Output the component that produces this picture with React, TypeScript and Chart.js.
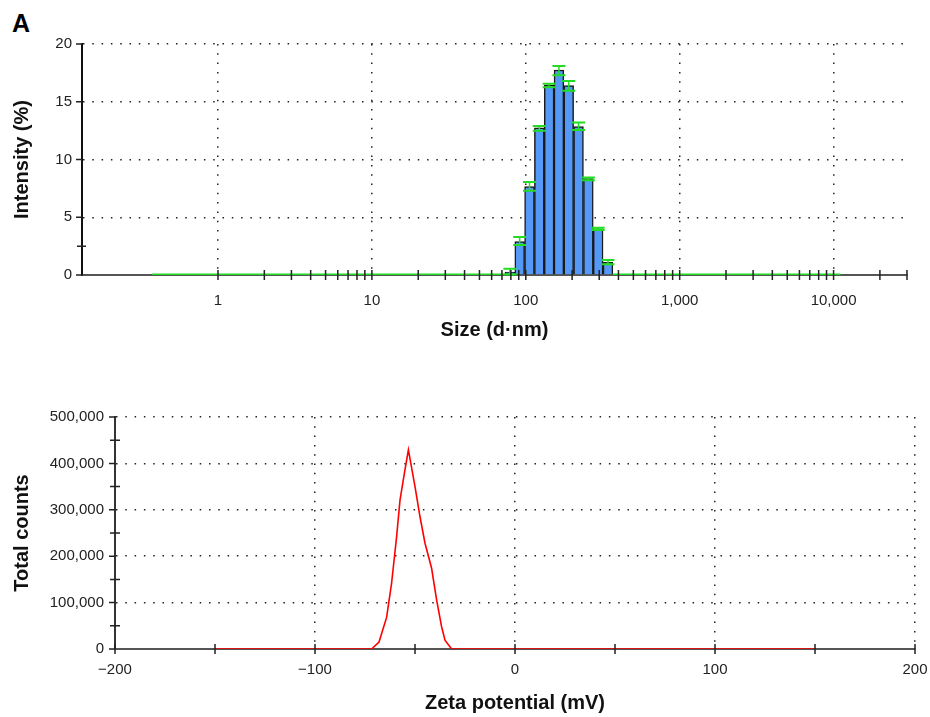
import React, { useEffect, useRef } from 'react';
import { Chart, registerables } from 'chart.js';

Chart.register(...registerables);

const FONT = "'Liberation Sans', Arial, Helvetica, sans-serif";
const GREEN = '#22dd22';
const BAR_BLUE = '#5599f8';
const GRID = '#222222';
const CLEAR = 'rgba(0,0,0,0)';

// ---- Panel 1: size distribution by intensity ----
const sizeBins = [78.82, 91.28, 105.7, 122.4, 141.8, 164.2, 190.1, 220.2, 255.0, 295.3, 342.0];
const intensity = [0.25, 2.9, 7.65, 12.75, 16.45, 17.75, 16.4, 12.85, 8.35, 4.0, 1.1];
const intensityLow = [0.05, 2.6, 7.3, 12.5, 16.25, 17.3, 15.95, 12.55, 8.2, 3.9, 0.93];
const intensityHigh = [0.55, 3.3, 8.05, 12.9, 16.55, 18.1, 16.8, 13.2, 8.45, 4.1, 1.3];
const zeroBandStart = [0.372, 367];
const zeroBandEnd = [87, 11100];
const sizeLabelTicks = [1, 10, 100, 1000, 10000];
const sizeTickMarks = [
  1, 2, 3, 4, 5, 6, 7, 8, 9,
  10, 20, 30, 40, 50, 60, 70, 80, 90,
  100, 200, 300, 400, 500, 600, 700, 800, 900,
  1000, 2000, 3000, 4000, 5000, 6000, 7000, 8000, 9000,
  10000, 20000, 30000,
];
const intensityTicks = [0, 5, 10, 15, 20];
const intensityMinorTicks = [2.5];

// ---- Panel 2: zeta potential distribution ----
const zetaPotential = [-150, -71.7, -68.0, -64.2, -61.7, -59.2, -57.5, -55.3, -53.3, -50.0, -47.5, -45.0, -41.7, -39.2, -36.7, -35.0, -31.7, 150];
const totalCounts = [0, 0, 15000, 68000, 142000, 242000, 321000, 379000, 429000, 350000, 285000, 228000, 174000, 106000, 48000, 19000, 0, 0];
const zetaLabelTicks = [-200, -100, 0, 100, 200];
const zetaTickMarks = [-200, -150, -100, -50, 0, 50, 100, 150, 200];
const countTicks = [0, 100000, 200000, 300000, 400000, 500000];
const countMinorTicks = [50000, 150000, 250000, 350000, 450000];

type MarkSpec = [number[], number, number];

function tickMarkPlugin(xMarks: MarkSpec[], yMarks: MarkSpec[]) {
  return {
    id: 'tickMarks',
    afterDraw(chart: any) {
      const { ctx, chartArea } = chart;
      const xs = chart.scales.x;
      const ys = chart.scales.y;
      ctx.save();
      ctx.strokeStyle = '#222';
      ctx.lineWidth = 1.5;
      ctx.beginPath();
      const by = chartArea.bottom;
      const lx = chartArea.left;
      xMarks.forEach(([vals, up, down]) => {
        vals.forEach((v) => {
          const p = xs.getPixelForValue(v);
          ctx.moveTo(p, by - up);
          ctx.lineTo(p, by + down);
        });
      });
      yMarks.forEach(([vals, left, right]) => {
        vals.forEach((v) => {
          const p = ys.getPixelForValue(v);
          ctx.moveTo(lx - left, p);
          ctx.lineTo(lx + right, p);
        });
      });
      ctx.stroke();
      ctx.restore();
    },
  };
}

const errorBarPlugin = {
  id: 'errorBars',
  afterDatasetsDraw(chart: any) {
    const { ctx } = chart;
    const xs = chart.scales.x;
    const ys = chart.scales.y;
    ctx.save();
    ctx.strokeStyle = GREEN;
    sizeBins.forEach((s, i) => {
      const px = xs.getPixelForValue(s);
      const yl = ys.getPixelForValue(intensityLow[i]);
      const yh = ys.getPixelForValue(intensityHigh[i]);
      ctx.lineWidth = 1.5;
      ctx.beginPath();
      ctx.moveTo(px, yl);
      ctx.lineTo(px, yh);
      ctx.stroke();
      ctx.lineWidth = 2;
      ctx.beginPath();
      ctx.moveTo(px - 6.5, yl);
      ctx.lineTo(px + 6.5, yl);
      ctx.moveTo(px - 6.5, yh);
      ctx.lineTo(px + 6.5, yh);
      ctx.stroke();
    });
    ctx.restore();
  },
};

const tickFont = { family: FONT, size: 15 };
const titleFont = { family: FONT, size: 20, weight: 'bold' as const };
const DASH = [1.5, 7.8];

const fmtThousands = (v: any) => Number(v).toLocaleString('en-US');
const fmtSigned = (v: any) => {
  const n = Number(v);
  return n < 0 ? '\u2212' + Math.abs(n) : String(n);
};

const noSidePadding = (s: any) => {
  s.paddingLeft = 0;
  s.paddingRight = 0;
};

export default function App() {
  const topRef = useRef<HTMLCanvasElement>(null);
  const botRef = useRef<HTMLCanvasElement>(null);

  useEffect(() => {
    const top = new Chart(topRef.current as HTMLCanvasElement, {
      type: 'bar',
      data: {
        datasets: [
          {
            type: 'bar',
            data: sizeBins.map((s, i) => ({ x: s, y: intensity[i] })),
            backgroundColor: BAR_BLUE,
            borderColor: '#1a1a1a',
            borderWidth: 1.5,
            barPercentage: 1,
            categoryPercentage: 1,
            order: 2,
          } as any,
          ...zeroBandStart.map((s, i) => ({
            type: 'line',
            data: [
              { x: s, y: 0 },
              { x: zeroBandEnd[i], y: 0 },
            ],
            borderColor: GREEN,
            borderWidth: 3,
            pointRadius: 0,
            order: 1,
          } as any)),
        ],
      },
      options: {
        responsive: false,
        animation: false,
        devicePixelRatio: 1,
        layout: { padding: { left: 0, top: 44, right: 23, bottom: 0 } },
        plugins: { legend: { display: false }, tooltip: { enabled: false } },
        scales: {
          x: {
            type: 'logarithmic',
            min: 0.1307,
            max: 30000,
            offset: false,
            afterBuildTicks: (s: any) => {
              s.ticks = sizeLabelTicks.map((v) => ({ value: v }));
            },
            afterFit: (s: any) => {
              s.height = 75;
              noSidePadding(s);
            },
            grid: { color: GRID, lineWidth: 1.5, drawTicks: false, offset: false },
            border: { display: true, color: '#555', width: 2, dash: DASH },
            ticks: {
              padding: 17,
              color: '#222',
              font: tickFont,
              maxRotation: 0,
              autoSkip: false,
              callback: fmtThousands,
            },
            title: {
              display: true,
              text: 'Size (d\u00b7nm)',
              color: '#111',
              font: titleFont,
              padding: { top: 0, bottom: 8 },
            },
          } as any,
          y: {
            type: 'linear',
            min: 0,
            max: 20,
            afterBuildTicks: (s: any) => {
              s.ticks = intensityTicks.map((v) => ({ value: v }));
            },
            afterFit: (s: any) => {
              s.width = 82;
            },
            grid: {
              color: (c: any) => (c.tick && c.tick.value === 0 ? CLEAR : GRID),
              lineWidth: 1.5,
              drawTicks: false,
            },
            border: { display: true, color: '#111', width: 2, dash: DASH },
            ticks: { padding: 10, color: '#222', font: tickFont },
            title: {
              display: true,
              text: 'Intensity (%)',
              color: '#111',
              font: titleFont,
              padding: { top: 10, bottom: 0 },
            },
          } as any,
        },
      },
      plugins: [
        errorBarPlugin,
        tickMarkPlugin(
          [[sizeTickMarks, 5, 5]],
          [
            [intensityTicks, 6, 0],
            [intensityMinorTicks, 5, 4],
          ]
        ),
      ],
    } as any);

    const bottom = new Chart(botRef.current as HTMLCanvasElement, {
      type: 'line',
      data: {
        datasets: [
          {
            data: zetaPotential.map((z, i) => ({ x: z, y: totalCounts[i] })),
            borderColor: '#ff0000',
            borderWidth: 1.6,
            pointRadius: 0,
            tension: 0,
            fill: false,
          },
        ],
      },
      options: {
        responsive: false,
        animation: false,
        devicePixelRatio: 1,
        layout: { padding: { left: 0, top: 67, right: 15, bottom: 0 } },
        plugins: { legend: { display: false }, tooltip: { enabled: false } },
        scales: {
          x: {
            type: 'linear',
            min: -200,
            max: 200,
            offset: false,
            afterBuildTicks: (s: any) => {
              s.ticks = zetaLabelTicks.map((v) => ({ value: v }));
            },
            afterFit: (s: any) => {
              s.height = 68;
              noSidePadding(s);
            },
            grid: {
              color: (c: any) => (c.tick && c.tick.value === -200 ? CLEAR : GRID),
              lineWidth: 1.5,
              drawTicks: false,
              offset: false,
            },
            border: { display: true, color: '#555', width: 2, dash: DASH },
            ticks: {
              padding: 12,
              color: '#222',
              font: tickFont,
              maxRotation: 0,
              autoSkip: false,
              callback: fmtSigned,
            },
            title: {
              display: true,
              text: 'Zeta potential (mV)',
              color: '#111',
              font: titleFont,
              padding: { top: 0, bottom: 2 },
            },
          } as any,
          y: {
            type: 'linear',
            min: 0,
            max: 500000,
            afterBuildTicks: (s: any) => {
              s.ticks = countTicks.map((v) => ({ value: v }));
            },
            afterFit: (s: any) => {
              s.width = 115;
            },
            grid: {
              color: (c: any) => (c.tick && c.tick.value === 0 ? CLEAR : GRID),
              lineWidth: 1.5,
              drawTicks: false,
            },
            border: { display: true, color: '#333', width: 2, dash: DASH },
            ticks: { padding: 11, color: '#222', font: tickFont, callback: fmtThousands },
            title: {
              display: true,
              text: 'Total counts',
              color: '#111',
              font: titleFont,
              padding: { top: 10, bottom: 0 },
            },
          } as any,
        },
      },
      plugins: [
        tickMarkPlugin(
          [[zetaTickMarks, 5, 5]],
          [
            [countTicks, 6, 0],
            [countMinorTicks, 5, 5],
          ]
        ),
      ],
    } as any);

    return () => {
      top.destroy();
      bottom.destroy();
    };
  }, []);

  return (
    <div
      style={{
        position: 'absolute',
        left: 0,
        top: 0,
        width: 930,
        height: 717,
        background: '#ffffff',
        overflow: 'hidden',
      }}
    >
      <div
        style={{
          position: 'absolute',
          left: 12,
          top: 11,
          font: `bold 25px ${FONT}`,
          lineHeight: '25px',
          color: '#000',
        }}
      >
        A
      </div>
      <canvas
        ref={topRef}
        width={930}
        height={350}
        style={{ position: 'absolute', left: 0, top: 0, display: 'block' }}
      />
      <canvas
        ref={botRef}
        width={930}
        height={367}
        style={{ position: 'absolute', left: 0, top: 350, display: 'block' }}
      />
    </div>
  );
}
